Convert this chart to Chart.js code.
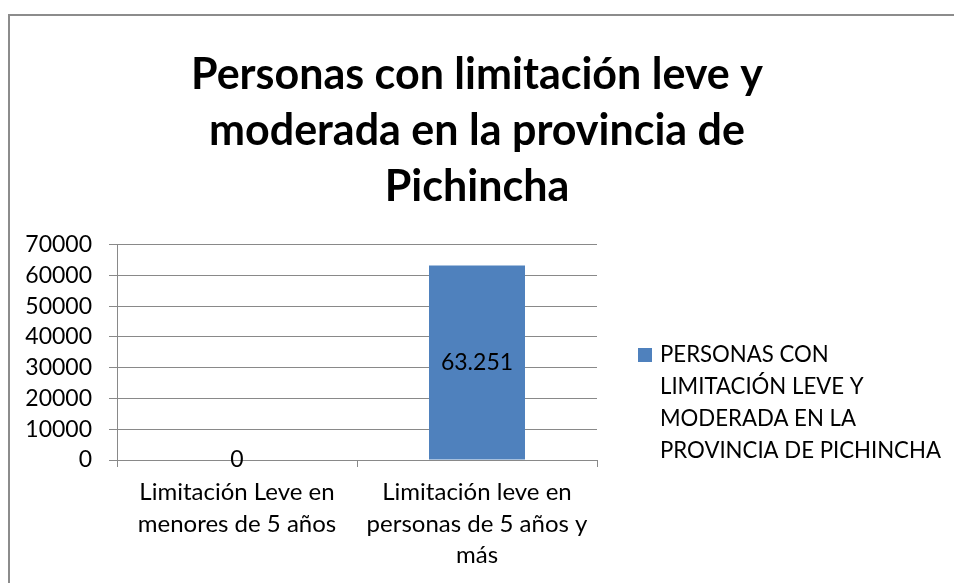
<!DOCTYPE html>
<html>
<head>
<meta charset="utf-8">
<script src="https://cdn.jsdelivr.net/npm/chart.js@4/dist/chart.umd.min.js"></script>
<style>
  html, body { margin: 0; padding: 0; background: #fff; overflow: hidden; }
  #frame {
    position: absolute; left: 8px; top: 14px; width: 1000px; height: 700px;
    border-left: 2px solid #8c8c8c; border-top: 2px solid #8c8c8c;
  }
  #wrap { position: absolute; left: 0; top: 0; width: 954px; height: 583px; }
</style>
</head>
<body>
<div id="frame"></div>
<div id="wrap"><canvas id="chart" width="954" height="583"></canvas></div>
<script>
const titleLines = ["Personas con limitación leve y", "moderada en la provincia de", "Pichincha"];
const categories = [
  ["Limitación Leve en", "menores de 5 años"],
  ["Limitación leve en", "personas de 5 años y", "más"]
];
const values = [0, 63251];
const seriesLines = ["PERSONAS CON", "LIMITACIÓN LEVE Y", "MODERADA EN LA", "PROVINCIA DE PICHINCHA"];
const yTicks = [0, 10000, 20000, 30000, 40000, 50000, 60000, 70000];

const FONT = "Lato, 'Open Sans', sans-serif";
const barColor = "#4f81bd";
const lineColor = "#898989";

function formatValue(v) {
  return String(v).replace(/\B(?=(\d{3})+(?!\d))/g, ".");
}

// keep the title centred over the whole canvas, not only the plot part
const wideTitle = {
  id: "wideTitle",
  afterLayout(chart) {
    const t = chart.titleBlock;
    if (!t) return;
    t.left = 0;
    t.right = chart.width;
    t.width = chart.width;
  }
};

const dataLabels = {
  id: "dataLabels",
  afterDatasetsDraw(chart) {
    const ctx = chart.ctx;
    const meta = chart.getDatasetMeta(0);
    ctx.save();
    ctx.font = "23px " + FONT;
    ctx.fillStyle = "#000";
    ctx.textAlign = "center";
    ctx.textBaseline = "middle";
    meta.data.forEach((bar, i) => {
      const y = (bar.y + bar.base) / 2;
      ctx.fillText(formatValue(values[i]), bar.x, y);
    });
    ctx.restore();
  }
};

const sideLegend = {
  id: "sideLegend",
  afterDraw(chart) {
    const ctx = chart.ctx;
    const x = 638, y = 355, lh = 32;
    ctx.save();
    ctx.fillStyle = chart.data.datasets[0].backgroundColor;
    ctx.fillRect(x, y - 7, 14, 14);
    ctx.font = "22.2px " + FONT;
    ctx.fillStyle = "#000";
    ctx.textAlign = "left";
    ctx.textBaseline = "middle";
    seriesLines.forEach((line, i) => {
      ctx.fillText(line, x + 22, y + i * lh);
    });
    ctx.restore();
  }
};

new Chart(document.getElementById("chart"), {
  type: "bar",
  data: {
    labels: categories,
    datasets: [{
      label: seriesLines.join(" "),
      data: values,
      backgroundColor: barColor,
      borderWidth: 0,
      barPercentage: 0.4,
      categoryPercentage: 1
    }]
  },
  options: {
    responsive: false,
    animation: false,
    layout: { padding: { left: 0, right: 357, top: 0, bottom: 0 } },
    plugins: {
      legend: { display: false },
      tooltip: { enabled: false },
      title: {
        display: true,
        text: titleLines,
        color: "#000",
        font: { family: FONT, size: 43, weight: "bold", lineHeight: 1.3 },
        padding: { top: 47, bottom: 30 }
      }
    },
    scales: {
      x: {
        afterFit(scale) { scale.height = 123; },
        grid: { offset: true, drawOnChartArea: false, color: lineColor, tickLength: 7 },
        border: { color: lineColor },
        ticks: {
          color: "#000",
          maxRotation: 0,
          autoSkip: false,
          padding: 10,
          font: { family: FONT, size: 24, lineHeight: 1.3 }
        }
      },
      y: {
        min: 0,
        max: 70000,
        afterFit(scale) { scale.width = 117; },
        afterBuildTicks(scale) { scale.ticks = yTicks.map(v => ({ value: v })); },
        grid: { color: lineColor, tickLength: 8 },
        border: { color: lineColor },
        ticks: {
          color: "#000",
          padding: 17,
          font: { family: FONT, size: 23 },
          callback: v => String(v)
        }
      }
    }
  },
  plugins: [wideTitle, dataLabels, sideLegend]
});
</script>
</body>
</html>
